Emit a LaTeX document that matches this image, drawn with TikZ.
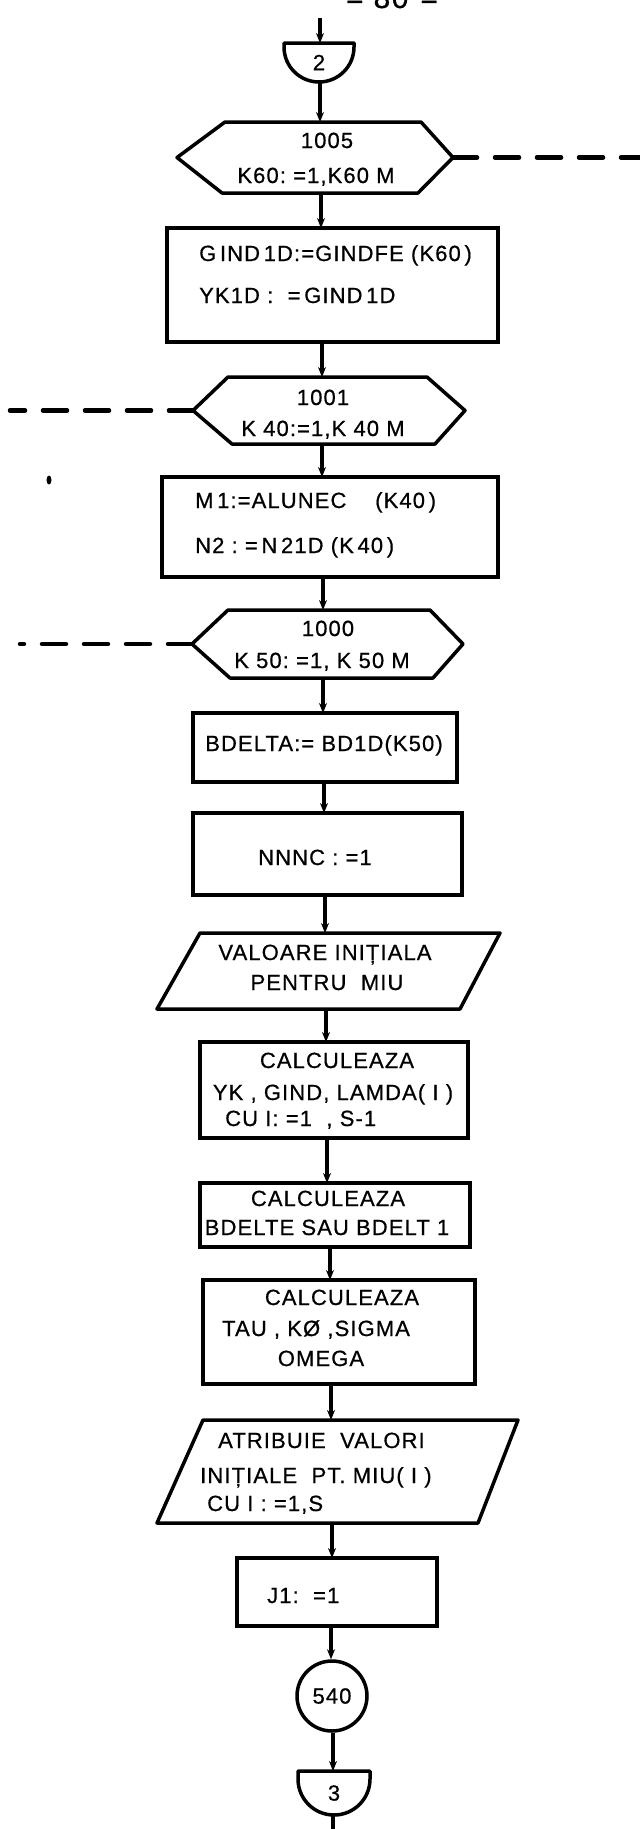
\documentclass[tikz,border=0pt]{standalone}
\usepackage{fontspec}
\setmainfont{Liberation Sans}[LetterSpace=5.0,FakeBold=0.6]
\usetikzlibrary{calc,arrows.meta}
\newcommand\lbfont{\fontsize{22}{26}\selectfont}
\begin{document}
\begin{tikzpicture}[x=1pt,y=1pt,
  frame/.style={draw=none,inner sep=0pt,outer sep=0pt,rectangle,font=\lbfont},
  box/.style={draw,line width=3.5pt,inner sep=0pt,outer sep=0pt,rectangle},
  outline/.style={line width=3.5pt,line join=round},
  lbl/.style={inner sep=0pt,font=\lbfont},
  flow/.style={line width=3.5pt,-{Stealth[length=10pt,width=8pt]}},
  loopline/.style={line width=4.5pt,line cap=round,dash pattern=on 24pt off 18pt},
]
% page and its bounds
\fill[white] (0,0) rectangle (640,-1829);
\useasboundingbox (0,0) rectangle (640,-1829);

% page number, cut by the top edge
\node[inner sep=0pt,anchor=base,font=\fontsize{30}{34}\selectfont] (pageno) at (392,-8) {=\hspace{10pt}80\hspace{12pt}=};

% column positions of the flow lines
\coordinate (x320) at (320,0);
\coordinate (x321) at (321,0);
\coordinate (x322) at (322,0);
\coordinate (x323) at (323,0);
\coordinate (x324) at (324,0);
\coordinate (x325) at (325,0);
\coordinate (x326) at (326,0);
\coordinate (x327) at (327,0);
\coordinate (x330) at (330,0);
\coordinate (x331) at (331,0);
\coordinate (x332) at (332,0);
\coordinate (x333) at (333,0);
\coordinate (leftA) at (10,0);
\coordinate (leftB) at (20,0);
\coordinate (rightE) at (640,0);

% off-page connector 2
\node[frame,minimum width=70pt,minimum height=39pt] (c2) at (319,-62.5) {2};
\draw[outline] (c2.north east) -- (c2.north west) -- ++(0,-4) arc[start angle=180,end angle=360,radius=35] -- cycle;

% loop 1005
\node[frame,minimum width=276pt,minimum height=71pt] (h1005) at (315,-157.5) {};
\draw[outline] (h1005.west) -- ($(h1005.north west)+(48,0)$) -- ($(h1005.north east)+(-32,0)$) -- (h1005.east) -- ($(h1005.south east)+(-35,0)$) -- ($(h1005.south west)+(45,0)$) -- cycle;
\node[lbl,anchor=base] (t1005a) at (327,-148) {1005};
\node[lbl,anchor=base] (t1005b) at (316,-183) {K60:~=1,K60~M};

% GIND1D
\node[box,minimum width=331pt,minimum height=114pt] (b1) at (332.5,-285) {};
\node[lbl,anchor=base west] (t1a) at (199,-261) {G\,IND\,1D:=GINDFE (K60\,)};
\node[lbl,anchor=base west] (t1b) at (199,-303) {YK1D~:~~=\,GIND\,1D};

% loop 1001
\node[frame,minimum width=272pt,minimum height=67pt] (h1001) at (329,-410.5) {};
\draw[outline] (h1001.west) -- ($(h1001.north west)+(35,0)$) -- ($(h1001.north east)+(-38,0)$) -- (h1001.east) -- ($(h1001.south east)+(-30,0)$) -- ($(h1001.south west)+(39,0)$) -- cycle;
\node[lbl,anchor=base] (t1001a) at (323,-405) {1001};
\node[lbl,anchor=base] (t1001b) at (323,-436) {K~40:=1,K~40~M};

% M1, N2
\node[box,minimum width=336pt,minimum height=100pt] (b2) at (330,-527) {};
\node[lbl,anchor=base west] (t2a) at (195,-508) {M\,1:=ALUNEC~~~~(K40\,)};
\node[lbl,anchor=base west] (t2b) at (195,-553) {N2~:~=\,N\,21D~(K\,40\,)};

% loop 1000
\node[frame,minimum width=271pt,minimum height=68pt] (h1000) at (327.5,-644) {};
\draw[outline] (h1000.west) -- ($(h1000.north west)+(36,0)$) -- ($(h1000.north east)+(-33,0)$) -- (h1000.east) -- ($(h1000.south east)+(-30,0)$) -- ($(h1000.south west)+(38,0)$) -- cycle;
\node[lbl,anchor=base] (t1000a) at (328,-636) {1000};
\node[lbl,anchor=base] (t1000b) at (322,-668) {K~50:~=1,~K~50~M};

% BDELTA
\node[box,minimum width=264pt,minimum height=69pt] (b3) at (325,-747.5) {};
\node[lbl,anchor=base] (t3) at (324,-751) {BDELTA:=~BD1D(K50)};

% NNNC
\node[box,minimum width=269pt,minimum height=82pt] (b4) at (327.5,-854) {};
\node[lbl,anchor=base] (t4) at (315,-865) {NNNC~:~=1};

% initial value input
\node[frame,minimum width=343pt,minimum height=76pt] (p1) at (328.5,-971) {};
\draw[outline] ($(p1.north west)+(43,0)$) -- (p1.north east) -- ($(p1.south east)+(-40,0)$) -- (p1.south west) -- cycle;
\node[lbl,anchor=base] (tp1a) at (325,-960) {VALOARE INIȚIALA};
\node[lbl,anchor=base] (tp1b) at (327,-990) {PENTRU~~MIU};

% CALCULEAZA YK
\node[box,minimum width=268pt,minimum height=96pt] (b5) at (334,-1090) {};
\node[lbl,anchor=base] (t5a) at (337,-1068) {CALCULEAZA};
\node[lbl,anchor=base] (t5b) at (333,-1100) {YK~,~GIND,~LAMDA(~I~)};
\node[lbl,anchor=base west] (t5c) at (225,-1126) {CU~I:~=1~~,~S-1};

% CALCULEAZA BDELTE
\node[box,minimum width=270pt,minimum height=64pt] (b6) at (335,-1215) {};
\node[lbl,anchor=base] (t6a) at (328,-1206) {CALCULEAZA};
\node[lbl,anchor=base] (t6b) at (327,-1235) {BDELTE SAU BDELT 1};

% CALCULEAZA TAU
\node[box,minimum width=272pt,minimum height=104pt] (b7) at (339,-1332) {};
\node[lbl,anchor=base] (t7a) at (342,-1305) {CALCULEAZA};
\node[lbl,anchor=base west] (t7b) at (222,-1336) {TAU~,~KØ~,SIGMA};
\node[lbl,anchor=base] (t7c) at (321,-1366) {OMEGA};

% initial values for MIU
\node[frame,minimum width=361pt,minimum height=103pt] (p2) at (337.5,-1471.5) {};
\draw[outline] ($(p2.north west)+(46,0)$) -- (p2.north east) -- ($(p2.south east)+(-40,0)$) -- (p2.south west) -- cycle;
\node[lbl,anchor=base west] (tp2a) at (218,-1448) {ATRIBUIE~~VALORI};
\node[lbl,anchor=base west] (tp2b) at (200,-1483) {INIȚIALE~~PT.~MIU(~I~)};
\node[lbl,anchor=base west] (tp2c) at (207,-1511) {CU~I~:~=1,S};

% J1
\node[box,minimum width=200pt,minimum height=68pt] (b8) at (337,-1592) {};
\node[lbl,anchor=base west] (t8) at (267,-1603) {J1:~~=1};

% label 540
\node[circle,draw,line width=3.5pt,minimum size=70pt,inner sep=0pt,font=\lbfont] (c540) at (332,-1696) {540};

% off-page connector 3
\node[frame,minimum width=72pt,minimum height=44pt] (c3) at (334,-1793) {3};
\draw[outline] (c3.north east) -- (c3.north west) -- ++(0,-8) arc[start angle=180,end angle=360,radius=36] -- cycle;

% flow lines
\coordinate (topin) at (320,-18);
\coordinate (exit) at (333,-1829);
\draw[flow] (topin) -- (c2.north -| topin);
\draw[flow] (c2.south -| x320) -- (h1005.north -| x320);
\draw[flow] (h1005.south -| x321) -- (b1.north -| x321);
\draw[flow] (b1.south -| x322) -- (h1001.north -| x322);
\draw[flow] (h1001.south -| x322) -- (b2.north -| x322);
\draw[flow] (b2.south -| x323) -- (h1000.north -| x323);
\draw[flow] (h1000.south -| x323) -- (b3.north -| x323);
\draw[flow] (b3.south -| x324) -- (b4.north -| x324);
\draw[flow] (b4.south -| x325) -- (p1.north -| x325);
\draw[flow] (p1.south -| x326) -- (b5.north -| x326);
\draw[flow] (b5.south -| x327) -- (b6.north -| x327);
\draw[flow] (b6.south -| x330) -- (b7.north -| x330);
\draw[flow] (b7.south -| x331) -- (p2.north -| x331);
\draw[flow] (p2.south -| x332) -- (b8.north -| x332);
\draw[flow] (b8.south -| x331) -- (c540.north -| x331);
\draw[flow] (c540.south -| x333) -- (c3.north -| x333);
\draw[line width=3.5pt] (c3.south -| exit) -- (exit);

% loop lines
\draw[loopline] (h1005.east) -- (h1005.east -| rightE);
\draw[loopline] (h1001.west) -- (h1001.west -| leftA);
\draw[loopline] (h1000.west) -- (h1000.west -| leftB);

% ink blot
\fill (49,-480) ellipse[x radius=2.5, y radius=4.5];
\end{tikzpicture}
\end{document}
